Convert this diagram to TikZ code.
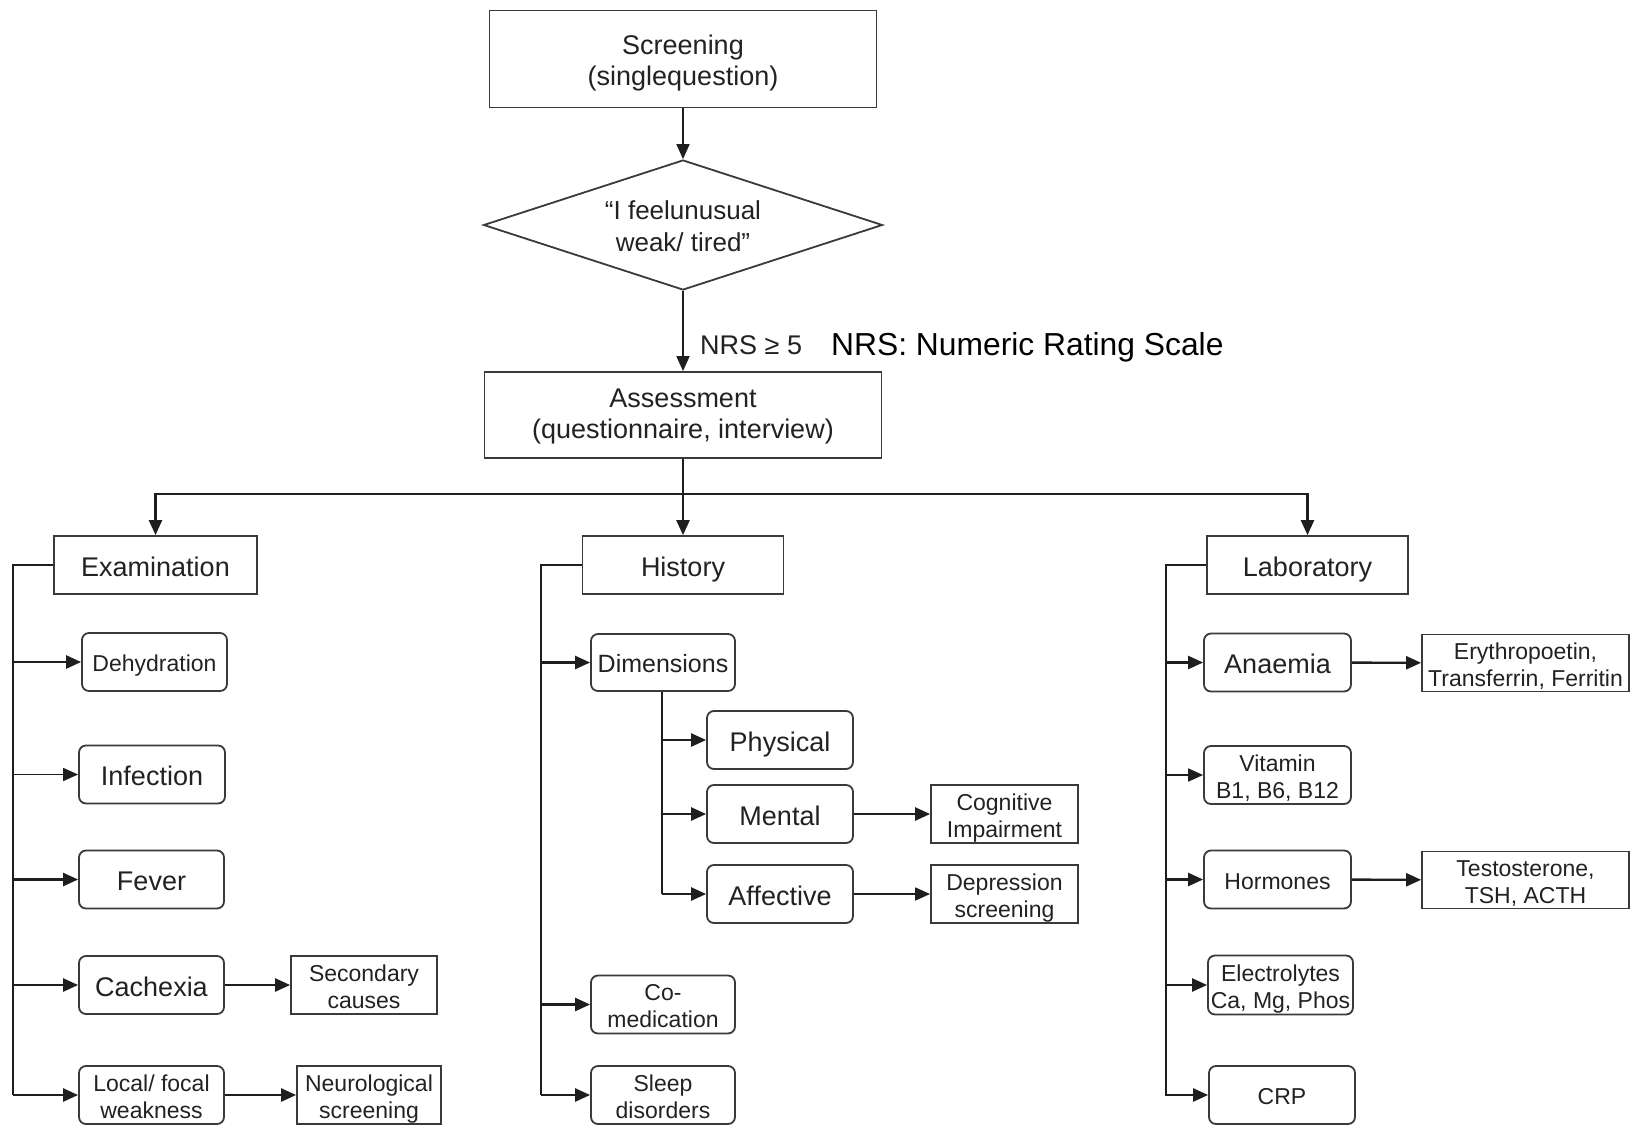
\documentclass[tikz,border=0pt]{standalone}
\usepackage{fontspec}
\setmainfont{Liberation Sans}
\usetikzlibrary{arrows.meta,shapes.geometric}
\definecolor{boxc}{HTML}{3A3A3A}
\definecolor{linec}{HTML}{1E1E1E}
\definecolor{txtc}{HTML}{222222}
\newcommand{\bigf}{\fontsize{27}{31}\selectfont}
\newcommand{\smallf}{\fontsize{23}{27}\selectfont}
% two-line text: strut on first line, smashed last line (centres on caps)
\newcommand{\twol}[3]{\rule{0pt}{#1}#2\\\smash{#3}}
\tikzset{
  sq/.style={draw=boxc, line width=1.8pt, inner sep=0pt, align=center, text=txtc},
  rd/.style={sq, rounded corners=7pt},
  bigone/.style={font=\bigf, text height=22.4pt, text depth=0pt},
  smallone/.style={font=\smallf, text height=19.2pt, text depth=0pt},
  bigbox/.style={rd, bigone, minimum width=145pt, minimum height=58pt},
  smallbox/.style={rd, smallone, minimum width=145pt, minimum height=58pt},
  smalltwo/.style={rd, font=\smallf, minimum width=145pt, minimum height=58pt},
  restwo/.style={sq, font=\smallf, minimum width=146pt, minimum height=58pt},
  line/.style={draw=linec, line width=2.4pt},
  conn/.style={line, -{Triangle[length=15pt,width=13pt]}},
  thinconn/.style={conn, line width=1.7pt},
}
\begin{document}
\begin{tikzpicture}[x=1pt,y=-1pt]
\useasboundingbox[fill=white] (0,0) rectangle (1642,1125);

% top chain
\node[sq, font=\bigf, minimum width=387pt, minimum height=97pt] (scr) at (683,59) {\twol{22.4pt}{Screening}{(singlequestion)}};
\node[diamond, draw=boxc, line width=1.8pt, aspect=3.07, inner sep=0pt, minimum width=399pt, minimum height=130pt, align=center, text=txtc, font=\fontsize{26}{32}\selectfont] (dia) at (683,225) {\twol{21.6pt}{“I feelunusual}{weak/ tired”}};
\node[sq, font=\bigf, minimum width=397pt, minimum height=86pt] (ass) at (683,415) {\twol{22.4pt}{Assessment}{(questionnaire, interview)}\rule[-6pt]{0pt}{6pt}};
\node[anchor=base west, text=txtc, font=\fontsize{27}{32}\selectfont, inner sep=0pt] (nrs) at (700,354) {NRS ≥ 5};
\node[anchor=base west, text=black, font=\fontsize{31.8}{36}\selectfont, inner sep=0pt] (note) at (831,355) {NRS: Numeric Rating Scale};

\draw[thinconn] (scr) -- (dia);
\draw[thinconn] (dia) -- (ass);

% branches
\node[sq, bigone, minimum width=203pt, minimum height=58pt] (exam) at (155.5,565) {Examination};
\node[sq, bigone, minimum width=201pt, minimum height=58pt] (hist) at (683,565) {History};
\node[sq, bigone, minimum width=201pt, minimum height=58pt] (lab) at (1307.5,565) {Laboratory};

\coordinate (bus) at (683,494);
\draw[line] (ass.south) -- (bus);
\draw[conn] (bus) -| (exam.north);
\draw[conn] (bus) -| (lab.north);
\draw[conn] (bus) -- (hist.north);

% Examination column
\node[smallbox] (dehyd) at (154.5,662) {Dehydration};
\node[bigbox, minimum width=146pt] (infec) at (152,774.5) {Infection};
\node[bigbox] (fever) at (151.5,879.5) {Fever};
\node[bigbox] (cach) at (151.5,985) {Cachexia};
\node[smalltwo] (local) at (151.5,1095) {\twol{19.1pt}{Local/ focal}{weakness}};
\node[restwo] (sec) at (364,985) {\twol{19.1pt}{Secondary}{causes}};
\node[restwo, minimum width=144pt] (neuro) at (369,1095) {\twol{19.1pt}{Neurological}{screening}};

\coordinate (es) at (13,1095);
\draw[line] (exam.west) -| (es);
\draw[conn] (es |- dehyd.west) -- (dehyd.west);
\draw[thinconn] (es |- infec.west) -- (infec.west);
\draw[conn] (es |- fever.west) -- (fever.west);
\draw[conn] (es |- cach.west) -- (cach.west);
\draw[conn] (es) -- (local.west);
\draw[conn] (cach) -- (sec);
\draw[conn] (local) -- (neuro);

% History column
\node[rd, font=\fontsize{25}{30}\selectfont, text height=20.8pt, text depth=0pt, minimum width=144pt, minimum height=57pt] (dims) at (663,662.5) {Dimensions};
\node[bigbox, minimum width=146pt] (phys) at (780,740) {Physical};
\node[bigbox, minimum width=146pt] (ment) at (780,814) {Mental};
\node[bigbox, minimum width=146pt] (affe) at (780,894) {Affective};
\node[restwo, minimum width=147pt] (cogn) at (1004.5,814) {\twol{19.1pt}{Cognitive}{Impairment}};
\node[restwo, minimum width=147pt] (depr) at (1004.5,894) {\twol{19.1pt}{Depression}{screening}};
\node[smalltwo, minimum width=144pt] (comed) at (663,1004.5) {\twol{19.1pt}{Co-}{medication}};
\node[smalltwo, minimum width=144pt] (sleep) at (663,1095) {\twol{19.1pt}{Sleep}{disorders}};

\coordinate (hs) at (541,1095);
\draw[line] (hist.west) -| (hs);
\draw[conn] (hs |- dims.west) -- (dims.west);
\draw[conn] (hs |- comed.west) -- (comed.west);
\draw[conn] (hs) -- (sleep.west);
\coordinate (ds) at (662,894);
\draw[line] (dims.south -| ds) -- (ds);
\draw[conn] (ds |- phys.west) -- (phys.west);
\draw[conn] (ds |- ment.west) -- (ment.west);
\draw[conn] (ds) -- (affe.west);
\draw[conn] (ment) -- (cogn);
\draw[thinconn] (affe) -- (depr);

% Laboratory column
\node[bigbox, minimum width=147pt] (anae) at (1277.5,662.5) {Anaemia};
\node[smalltwo, minimum width=147pt] (vita) at (1277.5,775) {\twol{19.1pt}{Vitamin}{B1, B6, B12}};
\node[smallbox, minimum width=147pt] (horm) at (1277.5,879.5) {Hormones};
\node[smalltwo, minimum height=59pt] (elec) at (1280.5,985) {\twol{19.1pt}{Electrolytes}{Ca, Mg, Phos}};
\node[smallbox, minimum width=146pt] (crp) at (1282,1095) {CRP};
\node[restwo, minimum width=207pt, minimum height=57pt] (eryth) at (1525.5,663) {\twol{19.1pt}{Erythropoetin,}{Transferrin, Ferritin}};
\node[restwo, minimum width=207pt, minimum height=57pt] (test) at (1525.5,880) {\twol{19.1pt}{Testosterone,}{TSH, ACTH}};

\coordinate (ls) at (1166,1096);
\draw[line] (lab.west) -| (ls);
\draw[conn] (ls |- anae.west) -- (anae.west);
\draw[thinconn] (ls |- vita.west) -- (vita.west);
\draw[conn] (ls |- horm.west) -- (horm.west);
\draw[conn] (ls |- elec.west) -- (elec.west);
\draw[conn] (ls |- crp.west) -- (crp.west);
\draw[conn] (anae) -- (eryth);
\draw[conn] (horm) -- (test);
\end{tikzpicture}
\end{document}
